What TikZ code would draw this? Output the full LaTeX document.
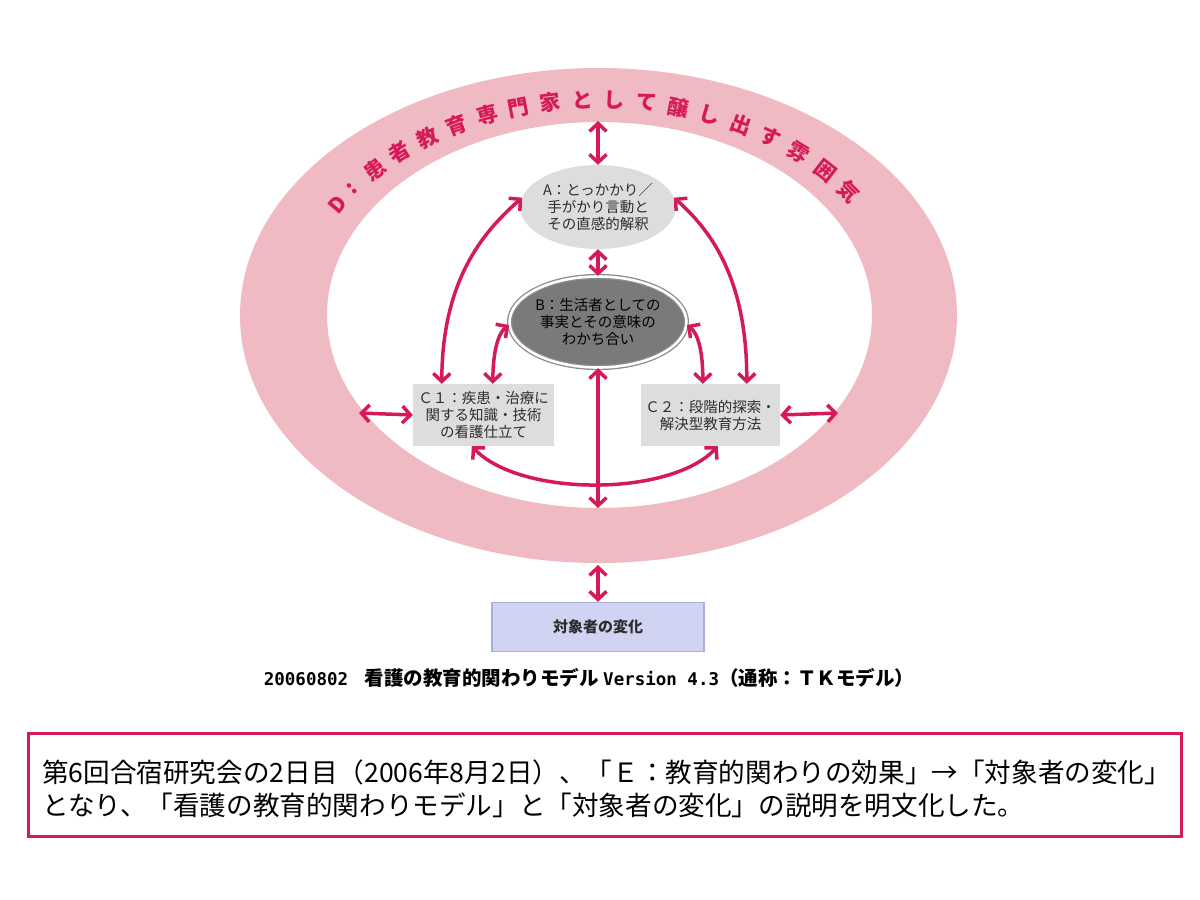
\documentclass[tikz,border=0pt]{standalone}
\usepackage{fontspec}
\newfontfamily\cjk{Noto Sans CJK JP}
\newfontfamily\capmono{DejaVu Sans Mono}
\usetikzlibrary{shapes.geometric,arrows.meta}
\definecolor{ringpink}{RGB}{240,186,194}
\definecolor{crim}{RGB}{214,26,88}
\definecolor{lgray}{RGB}{221,221,221}
\definecolor{bfill}{RGB}{122,122,122}
\definecolor{bline}{RGB}{140,140,140}
\definecolor{tfill}{RGB}{208,212,242}
\definecolor{tline}{RGB}{168,176,226}
\definecolor{txt}{RGB}{45,45,45}
\tikzset{
  arr/.style={draw=crim, line width=3.5pt,
    {Straight Barb[length=8pt,width=17pt]}-{Straight Barb[length=8pt,width=17pt]}},
  ringtext/.style={text=crim, font=\cjk\bfseries\fontsize{21}{21}\selectfont, inner sep=0pt},
  nodetext/.style={text=txt, font=\cjk\fontsize{14.5}{17}\selectfont, align=center, inner sep=0pt},
  cbox/.style={nodetext, fill=lgray, minimum height=62pt},
}
\begin{document}
\begin{tikzpicture}[x=1pt,y=-1pt]
\useasboundingbox (0,0) rectangle (1200,900);
\fill[white] (0,0) rectangle (1200,900);
% ring D
\fill[ringpink, even odd rule] (598.5,315.5) ellipse[x radius=358.5, y radius=247.5]
  (599.5,315) ellipse[x radius=272.5, y radius=193];
\foreach \c/\t [count=\i from 0] in {D/149,:/143.9,患/137.4,者/130.8,教/124.3,育/117.9,専/111.5,門/105.3,家/99.2,と/93.1,し/87.1,て/81,醸/74.9,し/68.7,出/62.3,す/55.8,雰/49.2,囲/42.2,気/35} {
  \pgfmathsetmacro\rx{599+305*cos(\t)}
  \pgfmathsetmacro\ry{315-215*sin(\t)}
  \pgfmathsetmacro\rot{atan2(-215*cos(\t),305*sin(\t))}
  \node[ringtext, rotate=\rot] (ring\i) at (\rx,\ry) {\c};
}
% nodes
\node[nodetext, ellipse, fill=lgray, minimum width=140pt, minimum height=84pt] (A) at (598,207)
  {A：とっかかり／\\手がかり言動と\\その直感的解釈};
\node[nodetext, text=black, ellipse, fill=bfill, draw=bline, line width=1.3pt, double=white,
  double distance=2.6pt, minimum width=153pt, minimum height=91pt] (B) at (598,322)
  {B：生活者としての\\事実とその意味の\\わかち合い};
\node[cbox, minimum width=141pt] (C1) at (483.5,415)
  {Ｃ１：疾患・治療に\\関する知識・技術\\の看護仕立て};
\node[cbox, minimum width=139pt] (C2) at (710.5,415)
  {Ｃ２：段階的探索・\\解決型教育方法};
\node[fill=tfill, draw=tline, line width=1.5pt, minimum width=212pt, minimum height=49pt,
  text=txt, font=\cjk\bfseries\fontsize{15}{15}\selectfont] (T) at (598,627) {対象者の変化};
\node[text=black, font=\cjk\bfseries\fontsize{19.5}{19.5}\selectfont, inner sep=0pt] (cap) at (589,678)
  {{\capmono\bfseries\fontsize{17.5}{17.5}\selectfont 20060802}\hspace{0.85em}看護の教育的関わりモデル {\capmono\bfseries\fontsize{17.5}{17.5}\selectfont Version 4.3}（通称：ＴＫモデル）};
% ring anchor points
\coordinate (ringTop) at (598,121);
\coordinate (ringBotIn) at (598,508);
\coordinate (ringBotOut) at (598,565);
\coordinate (ringL) at (359,413);
\coordinate (ringR) at (838,413);
% connectors
\draw[arr] (ringTop) -- (A.north);
\draw[arr] (A.south) -- (B.north);
\draw[arr] ([xshift=29pt]C1.north west) .. controls (442,275) and (488,228) .. (A.173);
\draw[arr] ([xshift=106pt]C2.north west) .. controls (747,275) and (708,228) .. (A.7);
\draw[arr] ([xshift=80pt]C1.north west) .. controls (493,352) and (498,333) .. (B.182);
\draw[arr] ([xshift=62pt]C2.north west) .. controls (703,352) and (698,333) .. (B.358);
\draw[arr] ([xshift=59pt]C1.south west) .. controls (520,497) and (670,497) .. ([xshift=77pt]C2.south west);
\draw[arr] (B.south) -- (ringBotIn);
\draw[arr] (ringBotOut) -- (T.north);
\draw[arr] (ringL) -- (C1.west);
\draw[arr] (C2.east) -- (ringR);
% note box
\node[draw=crim, line width=2.5pt, minimum width=1153pt, minimum height=103pt, inner sep=0pt] (note) at (605,785) {};
\node[anchor=west, align=left, inner sep=0pt, text=black, font=\cjk\fontsize{26.6}{33}\selectfont] (notetext) at (42,789)
  {第6回合宿研究会の2日目（2006年8月2日）、「Ｅ：教育的関わりの効果」→「対象者の変化」\\
   となり、「看護の教育的関わりモデル」と「対象者の変化」の説明を明文化した。};
\end{tikzpicture}
\end{document}
